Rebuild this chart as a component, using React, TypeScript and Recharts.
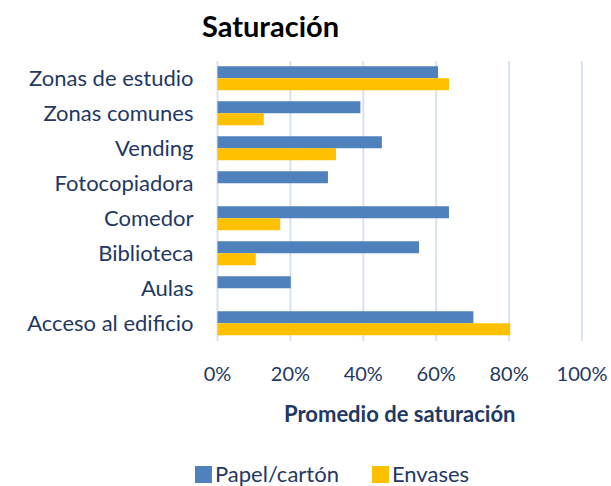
import React from 'react';
import { BarChart, Bar, XAxis, YAxis, CartesianGrid, Legend } from 'recharts';

const categories = ['Zonas de estudio', 'Zonas comunes', 'Vending', 'Fotocopiadora', 'Comedor', 'Biblioteca', 'Aulas', 'Acceso al edificio'];
const papelCarton = [60.5, 39.2, 45.1, 30.3, 63.5, 55.3, 20.1, 70.2];
const envases = [63.5, 12.7, 32.5, 0, 17.2, 10.5, 0, 80.3];
const xTicks = [0, 20, 40, 60, 80, 100];
const seriesNames = ['Papel/cartón', 'Envases'];
const seriesColors = ['#4F81BD', '#FFC000'];

const data = categories.map((c, i) => ({ name: c, papel: papelCarton[i], envases: envases[i] }));

const FONT = 'Lato, "Noto Sans", sans-serif';
const TEXT = '#1F3864';

const LegendContent = () => (
  <div style={{ display: 'flex', alignItems: 'center', fontFamily: FONT, fontSize: 22, color: TEXT, lineHeight: '22px', height: 22 }}>
    {seriesNames.map((n, i) => (
      <div key={n} style={{ display: 'flex', alignItems: 'center', marginRight: i === 0 ? 33 : 0 }}>
        <span style={{ display: 'inline-block', width: 17, height: 17, background: seriesColors[i], marginRight: 3 }} />
        <span>{n}</span>
      </div>
    ))}
  </div>
);

export default function App() {
  return (
    <div style={{ position: 'absolute', left: 0, top: 0, width: 611, height: 486, background: '#fff', fontFamily: FONT }}>
      <div style={{ position: 'absolute', left: 0, width: 541, top: 6, textAlign: 'center', fontSize: 29, fontWeight: 700, color: '#000', lineHeight: '40px' }}>
        Saturación
      </div>
      <BarChart
        width={611}
        height={486}
        data={data}
        layout="vertical"
        margin={{ top: 61, right: 29, left: 0, bottom: 4 }}
        barCategoryGap="15%"
        barGap={0}
      >
        <CartesianGrid horizontal={false} vertical stroke="#D9E2F1" strokeWidth={2} />
        <XAxis
          type="number"
          domain={[0, 100]}
          ticks={xTicks}
          tickFormatter={(v: number) => `${v}%`}
          axisLine={false}
          tickLine={false}
          tickSize={0}
          tickMargin={26}
          height={119}
          interval={0}
          tick={{ fill: TEXT, fontSize: 20, fontFamily: FONT }}
          label={{ value: 'Promedio de saturación', position: 'insideTop', offset: 65, fill: TEXT, fontSize: 22, fontWeight: 700, fontFamily: FONT }}
        />
        <YAxis
          type="category"
          dataKey="name"
          width={217.5}
          axisLine={false}
          tickLine={false}
          tickSize={0}
          tickMargin={24}
          interval={0}
          tick={{ fill: TEXT, fontSize: 22, fontFamily: FONT }}
        />
        <Legend
          verticalAlign="bottom"
          align="left"
          content={LegendContent}
          wrapperStyle={{ left: 195, top: 463, height: 22 }}
        />
        <Bar dataKey="papel" name={seriesNames[0]} fill={seriesColors[0]} isAnimationActive={false} />
        <Bar dataKey="envases" name={seriesNames[1]} fill={seriesColors[1]} isAnimationActive={false} />
      </BarChart>
    </div>
  );
}
